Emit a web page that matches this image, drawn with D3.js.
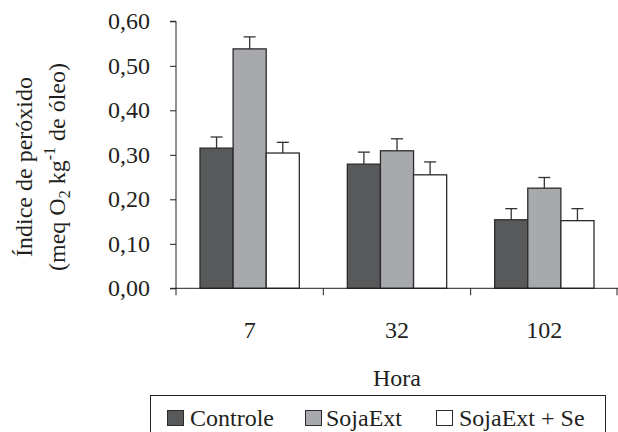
<!DOCTYPE html>
<meta charset="utf-8">
<style>
  body { margin: 0; background: #fff; }
  text { font-family: "Liberation Serif", "Times New Roman", serif; fill: #231f20; }
</style>
<svg width="618" height="432"></svg>
<script src="https://d3js.org/d3.v7.min.js"></script>
<script>
var hours = ["7", "32", "102"]
var series = ["Controle", "SojaExt", "SojaExt + Se"]
var colors = ["#58595b", "#a7a9ac", "#ffffff"]
var controle = [0.315, 0.279, 0.154]
var sojaExt = [0.538, 0.309, 0.225]
var sojaExtSe = [0.304, 0.255, 0.152]
var errControle = [0.025, 0.027, 0.025]
var errSojaExt = [0.027, 0.027, 0.024]
var errSojaExtSe = [0.024, 0.029, 0.027]
var yTicks = [0, 0.1, 0.2, 0.3, 0.4, 0.5, 0.6]

var values = [controle, sojaExt, sojaExtSe]
var errors = [errControle, errSojaExt, errSojaExtSe]

var svg = d3.select('svg')
var mLeft = 176, mRight = 618, mTop = 21.3, mBottom = 288.3

var x = d3.scaleBand().domain(hours).range([mLeft, mRight])
// the three bars of a group fill 99 of the 147 px of a band, centred
var xs = d3.scaleBand().domain(series).range([24, x.bandwidth() - 24])
var y = d3.scaleLinear().domain([0, 0.6]).range([mBottom, mTop])

var data = []
hours.forEach(function (h, i) {
  series.forEach(function (s, j) {
    data.push({ hour: h, s: s, j: j, v: values[j][i], e: errors[j][i] })
  })
})

function cx(d) { return x(d.hour) + xs(d.s) + xs.bandwidth() / 2 }

// error bars
var eb = svg.append('g').attr('stroke', '#333').attr('stroke-width', 1.3)
eb.selectAll('line.v').data(data).enter().append('line')
  .attr('x1', cx).attr('x2', cx)
  .attr('y1', function (d) { return y(d.v) })
  .attr('y2', function (d) { return y(d.v + d.e) })
eb.selectAll('line.c').data(data).enter().append('line')
  .attr('x1', function (d) { return cx(d) - 6 })
  .attr('x2', function (d) { return cx(d) + 6 })
  .attr('y1', function (d) { return y(d.v + d.e) })
  .attr('y2', function (d) { return y(d.v + d.e) })

svg.append('g').selectAll('rect').data(data).enter().append('rect')
  .attr('x', function (d) { return x(d.hour) + xs(d.s) })
  .attr('y', function (d) { return y(d.v) })
  .attr('width', xs.bandwidth())
  .attr('height', function (d) { return y(0) - y(d.v) })
  .attr('fill', function (d) { return colors[d.j] })
  .attr('stroke', '#2b2b2b').attr('stroke-width', 1.3)

// y axis
var yAxis = d3.axisLeft(y).tickValues(yTicks).tickSize(6).tickPadding(20)
  .tickFormat(function (d) { return d3.format('.2f')(d).replace('.', ',') })
var gy = svg.append('g').attr('transform', 'translate(' + mLeft + ',0)').call(yAxis)
gy.select('.domain').attr('stroke', '#231f20').attr('d', 'M-6,' + mTop + 'H0V' + mBottom + 'H-6')
gy.selectAll('.tick line').attr('stroke', '#231f20')
gy.selectAll('.tick text')
  .style('font-size', '24px').style('font-family', '"Liberation Serif", serif').attr('fill', '#231f20')

// x axis
var gx = svg.append('g').attr('transform', 'translate(0,' + mBottom + ')')
gx.append('line').attr('x1', mLeft).attr('x2', mRight).attr('stroke', '#231f20')
gx.selectAll('line.t').data(hours.concat(['end'])).enter().append('line')
  .attr('x1', function (d, i) { return i < hours.length ? x(d) : mRight - 1 })
  .attr('x2', function (d, i) { return i < hours.length ? x(d) : mRight - 1 })
  .attr('y1', 0).attr('y2', 7).attr('stroke', '#231f20')
gx.selectAll('text').data(hours).enter().append('text')
  .attr('x', function (d) { return x(d) + x.bandwidth() / 2 })
  .attr('y', 50)
  .attr('text-anchor', 'middle').style('font-size', '24px')
  .text(function (d) { return d })

svg.append('text').attr('x', (mLeft + mRight) / 2).attr('y', 386)
  .attr('text-anchor', 'middle').style('font-size', '24px').text('Hora')

// y label
var yl = svg.append('text').attr('transform', 'translate(0,167) rotate(-90)')
  .attr('text-anchor', 'middle').style('font-size', '24px')
yl.append('tspan').attr('x', 0).attr('y', 32).text('Índice de peróxido')
var l2 = yl.append('tspan').attr('x', 0).attr('y', 65)
l2.append('tspan').text('(meq O')
l2.append('tspan').attr('dy', 5).style('font-size', '16px').text('2')
l2.append('tspan').attr('dy', -5).text(' kg')
l2.append('tspan').attr('dy', -10).style('font-size', '16px').text('-1')
l2.append('tspan').attr('dy', 10).text(' de óleo)')

// legend
svg.append('rect').attr('x', 150.5).attr('y', 395.5).attr('width', 455).attr('height', 50)
  .attr('fill', 'none').attr('stroke', '#231f20')
var legX = [167, 305, 436]
var lg = svg.append('g').selectAll('g').data(series).enter().append('g')
  .attr('transform', function (d, i) { return 'translate(' + legX[i] + ',0)' })
lg.append('rect').attr('x', 0.5).attr('y', 410.5).attr('width', 16).attr('height', 15)
  .attr('fill', function (d, i) { return colors[i] }).attr('stroke', '#2b2b2b')
lg.append('text').attr('x', function (d, i) { return i === 1 ? 21 : 23 }).attr('y', 426)
  .style('font-size', '24px').text(function (d) { return d })
</script>
